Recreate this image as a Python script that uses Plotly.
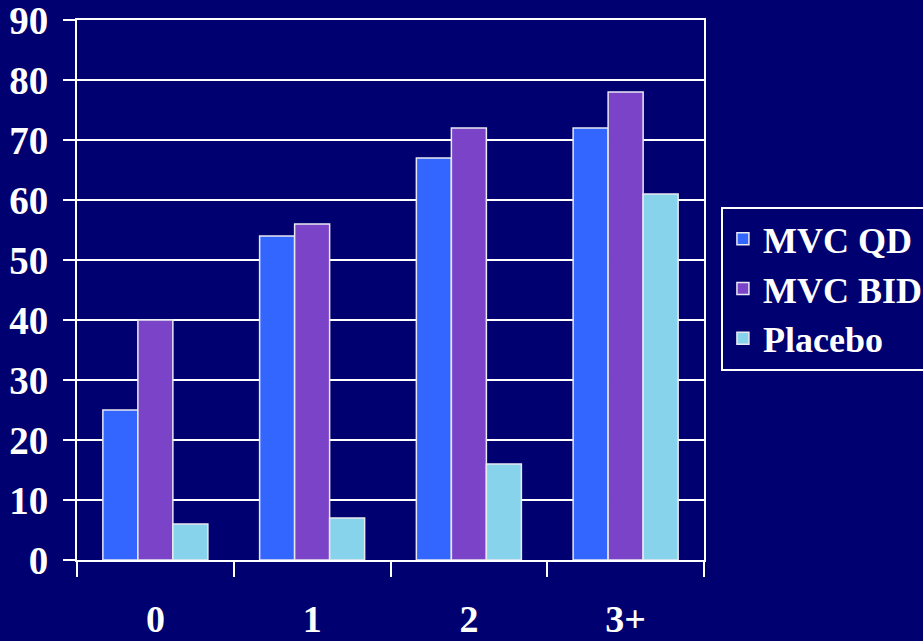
import plotly.graph_objects as go

categories = ["0", "1", "2", "3+"]
mvc_qd = [25, 54, 67, 72]
mvc_bid = [40, 56, 72, 78]
placebo = [6, 7, 16, 61]
series_names = ["MVC QD", "MVC BID", "Placebo"]
colors = ["#3366FF", "#7B44C8", "#87D3EB"]
y_ticks = [0, 10, 20, 30, 40, 50, 60, 70, 80, 90]

BG = "#000070"
FONT = "Liberation Serif"

fig = go.Figure()
for name, vals, col in zip(series_names, [mvc_qd, mvc_bid, placebo], colors):
    fig.add_trace(go.Bar(
        x=categories, y=vals, name=name,
        marker=dict(color=col, line=dict(color="#E8E8F0", width=1.5)),
    ))

fig.update_layout(
    width=923, height=641,
    margin=dict(l=77, r=219, t=20, b=81, autoexpand=False),
    paper_bgcolor=BG, plot_bgcolor=BG,
    barmode="group", bargap=0.33, bargroupgap=0,
    font=dict(family=FONT, color="white", size=38),
    showlegend=True,
    legend=dict(
        x=1.027, xanchor="left", y=0.654, yanchor="top",
        bgcolor=BG, bordercolor="white", borderwidth=2,
        font=dict(family=FONT, size=36, color="white", weight="bold"),
        tracegroupgap=0,
    ),
    xaxis=dict(
        type="category", tickson="boundaries", automargin=False,
        ticks="outside", ticklen=15, tickwidth=2, tickcolor="white",
        showline=True, linecolor="white", linewidth=2, mirror=True,
        showgrid=False, ticklabelstandoff=24, ticklabeloverflow="allow",
        tickfont=dict(family=FONT, size=38, color="white", weight="bold"),
    ),
    yaxis=dict(
        range=[0, 90.02], tickvals=y_ticks, ticktext=[str(v) for v in y_ticks],
        automargin=False,
        ticks="outside", ticklen=12, tickwidth=2, tickcolor="white",
        showline=True, linecolor="white", linewidth=2, mirror=True,
        showgrid=True, gridcolor="white", gridwidth=2,
        zeroline=False, ticklabelstandoff=7, ticklabeloverflow="allow",
        tickfont=dict(family=FONT, size=39, color="white", weight="bold"),
    ),
)

fig.write_html("out.html")
